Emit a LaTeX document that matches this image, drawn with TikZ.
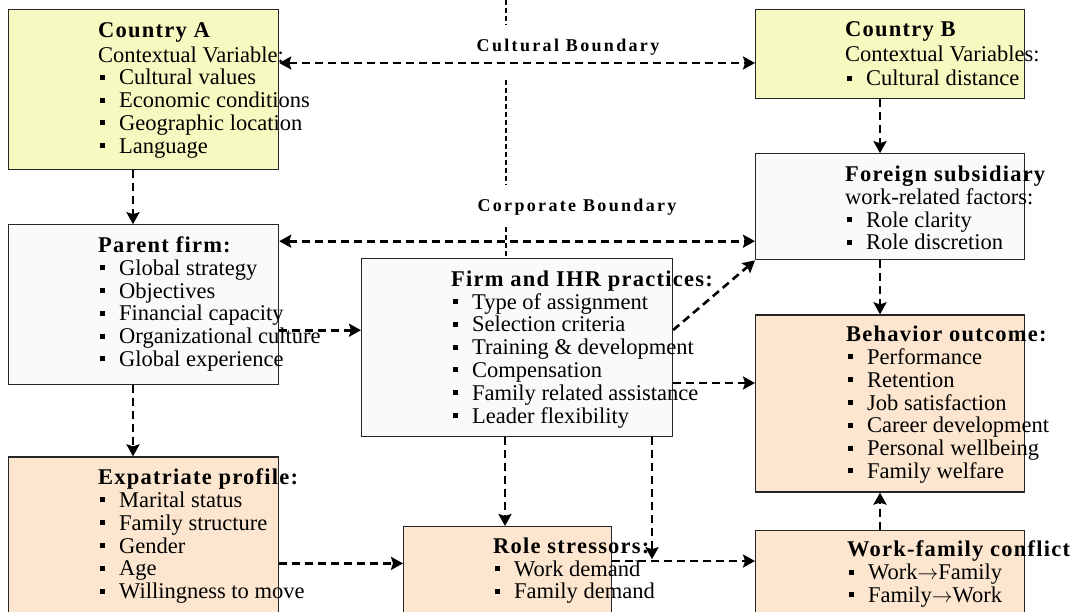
\documentclass[tikz,border=0pt]{standalone}
\usepackage{fontspec}
\setmainfont{Liberation Serif}
\newfontfamily\hdfont{Liberation Serif}[LetterSpace=5.5]
\newfontfamily\bdfont{Liberation Serif}[LetterSpace=13]
\usepackage{tikz}
\usetikzlibrary{arrows.meta,positioning}

\definecolor{ctryfill}{RGB}{246,250,192}
\definecolor{firmfill}{RGB}{250,250,250}
\definecolor{indvfill}{RGB}{253,230,207}

\newcommand{\itm}[1]{\hspace*{2pt}\rule[5pt]{5pt}{5pt}\hspace{14pt}#1}
\newcommand{\hd}[1]{\rule{0pt}{18pt}{\hdfont\bfseries #1}}

\begin{document}
\begin{tikzpicture}[x=1pt, y=1pt, >={Stealth[length=12pt,width=13pt,inset=2pt]}]
        \tikzstyle{box} = [rectangle, draw=black!85, line width=1.2pt, inner sep=0pt, anchor=north west]
        \tikzstyle{txt} = [anchor=north west, inner sep=0pt, align=left, font=\fontsize{22.5}{22.8}\selectfont]
        \tikzstyle{lbl} = [inner sep=0pt, font=\fontsize{18}{20}\selectfont\bdfont\bfseries]
        \tikzstyle{arrow} = [->, line width=2.6pt, dash pattern=on 8pt off 5pt]
        \tikzstyle{bound} = [line width=2pt, dash pattern=on 5pt off 3pt]

        \clip (0,0) rectangle (1074,-611);

        % boxes
        \node (cA) [box, fill=ctryfill, minimum width=270pt, minimum height=160pt] at (8,-9) {};
        \node (pf) [box, fill=firmfill, minimum width=270pt, minimum height=160pt, below=54pt of cA] {};
        \node (ep) [box, fill=indvfill, minimum width=270pt, minimum height=170pt, below=71pt of pf] {};
        \node (cB) [box, fill=ctryfill, minimum width=269pt, minimum height=89pt] at (755,-9) {};
        \node (fs) [box, fill=firmfill, minimum width=269pt, minimum height=106pt, below=54pt of cB] {};
        \node (bo) [box, fill=indvfill, minimum width=269pt, minimum height=177pt, below=54pt of fs] {};
        \node (wf) [box, fill=indvfill, minimum width=269pt, minimum height=100pt, below=37pt of bo] {};
        \node (fi) [box, fill=firmfill, minimum width=311pt, minimum height=178pt] at (361,-258) {};
        \node (rs) [box, fill=indvfill, minimum width=208pt, minimum height=100pt] at (403,-526) {};

        % boundaries
        \coordinate (bnd1) at (506,0);
        \coordinate (bnd2) at (506,-80);
        \coordinate (bnd3) at (506,-227);
        \draw[bound] (bnd1) -- ++(0,-25);
        \draw[bound] (bnd2) -- ++(0,-105);
        \draw[bound] (bnd3) -- (bnd3 |- fi.north);
        \node (cbnd) [lbl] at (568,-47) {Cultural Boundary};
        \node (pbnd) [lbl] at (577,-207) {Corporate Boundary};

        % connectors
        \draw[arrow, <->] ([yshift=-54pt]cA.north east) -- ([yshift=-54pt]cB.north west);
        \draw[arrow] ([xshift=125pt]cA.south west) -- ([xshift=125pt]pf.north west);
        \draw[arrow] ([xshift=125pt]cB.south west) -- ([xshift=125pt]fs.north west);
        \draw[arrow, <->] ([yshift=-17pt]pf.north east) -- ([yshift=-17pt]pf.north east -| fs.west);
        \draw[arrow] ([yshift=-106pt]pf.north east) -- ([yshift=-106pt]pf.north east -| fi.west);
        \draw[arrow] ([yshift=-72pt]fi.north east) -- (fs.south west);
        \draw[arrow] ([yshift=-125pt]fi.north east) -- ([yshift=-125pt]fi.north east -| bo.west);
        \draw[arrow] ([xshift=125pt]fs.south west) -- ([xshift=125pt]bo.north west);
        \draw[arrow] ([xshift=125pt]pf.south west) -- ([xshift=125pt]ep.north west);
        \draw[arrow] ([yshift=-107pt]ep.north east) -- ([yshift=-107pt]ep.north east -| rs.west);
        \draw[arrow] ([xshift=144pt]fi.south west) -- ([xshift=144pt]fi.south west |- rs.north);
        \coordinate (jn) at ([xshift=291pt,yshift=-122pt]fi.south west);
        \draw[arrow] ([xshift=291pt]fi.south west) -- (jn);
        \draw[arrow] ([yshift=-35pt]rs.north east) -- ([yshift=-35pt]rs.north east -| wf.west);
        \draw[arrow] ([xshift=125pt]wf.north west) -- ([xshift=125pt]bo.south west);

        % box texts
        \node (cAt) [txt] at ([shift={(90pt,-10pt)}]cA.north west) {\hd{Country A}\\[2pt]Contextual Variable:\\\itm{Cultural values}\\\itm{Economic conditions}\\\itm{Geographic location}\\\itm{Language}};
        \node (cBt) [txt] at ([shift={(90pt,-9pt)}]cB.north west) {\hd{Country B}\\[2pt]Contextual Variables:\\[2pt]\itm{Cultural distance}};
        \node (fst) [txt] at ([shift={(90pt,-10pt)}]fs.north west) {\hd{Foreign subsidiary}\\work-related factors:\\\itm{Role clarity}\\\itm{Role discretion}};
        \node (pft) [txt] at ([shift={(90pt,-10pt)}]pf.north west) {\hd{Parent firm:}\\\itm{Global strategy}\\\itm{Objectives}\\\itm{Financial capacity}\\\itm{Organizational culture}\\\itm{Global experience}};
        \node (fit) [txt] at ([shift={(90pt,-10pt)}]fi.north west) {\hd{Firm and IHR practices:}\\\itm{Type of assignment}\\\itm{Selection criteria}\\\itm{Training \& development}\\\itm{Compensation}\\\itm{Family related assistance}\\\itm{Leader flexibility}};
        \node (bot) [txt] at ([shift={(91pt,-9pt)}]bo.north west) {\hd{Behavior outcome:}\\\itm{Performance}\\\itm{Retention}\\\itm{Job satisfaction}\\\itm{Career development}\\\itm{Personal wellbeing}\\\itm{Family welfare}};
        \node (ept) [txt] at ([shift={(90pt,-10pt)}]ep.north west) {\hd{Expatriate profile:}\\\itm{Marital status}\\\itm{Family structure}\\\itm{Gender}\\\itm{Age}\\\itm{Willingness to move}};
        \node (rst) [txt] at ([shift={(90pt,-9pt)}]rs.north west) {\hd{Role stressors:}\\\itm{Work demand}\\\itm{Family demand}};
        \node (wft) [txt] at ([shift={(92pt,-9pt)}]wf.north west) {\hd{Work-family conflict}\\\itm{Work$\rightarrow$Family}\\\itm{Family$\rightarrow$Work}};
    \end{tikzpicture}
\end{document}
